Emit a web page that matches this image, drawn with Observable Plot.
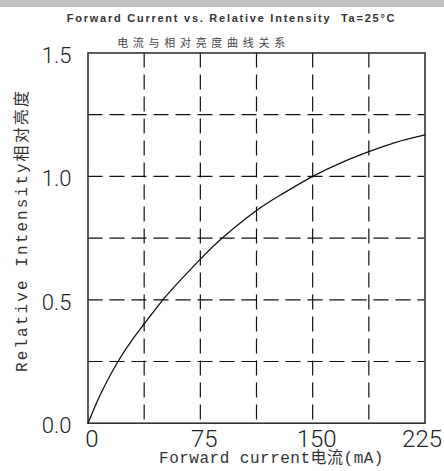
<!DOCTYPE html>
<html>
<head>
<meta charset="utf-8">
<script src="https://cdn.jsdelivr.net/npm/d3@7"></script>
<script src="https://cdn.jsdelivr.net/npm/@observablehq/plot@0.6"></script>
<style>
  html, body { margin: 0; padding: 0; background: #fff; overflow: hidden; }
  #wrap { position: relative; width: 444px; height: 471px; }
  #bar { position: absolute; left: 0; top: 0; width: 444px; height: 7px; background: #bfbfbf; }
</style>
</head>
<body>
<div id="wrap"><div id="bar"></div></div>
<script>
const current = [0, 5, 10, 20, 30, 37.5, 50, 62.5, 75, 90, 112.5, 130, 150, 170, 187.5, 205, 225];
const intensity = [0, 0.0725, 0.1375, 0.25, 0.342, 0.402, 0.50, 0.585, 0.665, 0.752, 0.862, 0.93, 1.0, 1.058, 1.10, 1.137, 1.168];
const xGrid = [37.5, 75, 112.5, 150, 187.5];
const yGrid = [0.25, 0.5, 0.75, 1.0, 1.25];
const xTickLabels = [0, 75, 150, 225];
const yTickLabels = [0, 0.5, 1.0, 1.5];
const titleText = "Forward Current vs. Relative Intensity  Ta=25°C";
const subtitleText = "电流与相对亮度曲线关系";
const xTitle = "Forward current电流(mA)";
const yTitle = "Relative Intensity相对亮度";

const data = current.map((c, i) => ({current: c, intensity: intensity[i]}));
const numFont = "Roboto, 'DejaVu Sans', sans-serif";
const monoFont = "'Liberation Mono', 'Noto Sans CJK SC', monospace";

const chart = Plot.plot({
  width: 444,
  height: 471,
  marginTop: 52.5,
  marginBottom: 48.3,
  marginLeft: 87.5,
  marginRight: 19.5,
  style: {background: "transparent"},
  x: {domain: [0, 225], axis: null},
  y: {domain: [0, 1.5], axis: null},
  marks: [
    Plot.ruleX(xGrid, {stroke: "#111", strokeWidth: 1.2, strokeDasharray: "15,7"}),
    Plot.ruleY(yGrid, {stroke: "#111", strokeWidth: 1.2, strokeDasharray: "15,7"}),
    Plot.frame({stroke: "#333", strokeWidth: 1.6}),
    Plot.line(data, {x: "current", y: "intensity", curve: "natural", stroke: "#111", strokeWidth: 1.3}),
    // x tick labels
    Plot.text(xTickLabels.slice(0, 3), {x: d => d, frameAnchor: "bottom", text: d => String(d), dx: 4, dy: 16,
      lineAnchor: "middle", textAnchor: "middle", fontFamily: numFont, fontWeight: 300, fontSize: 24, fill: "#222"}),
    Plot.text(xTickLabels.slice(3), {x: d => d, frameAnchor: "bottom", text: d => String(d), dx: 17, dy: 16,
      lineAnchor: "middle", textAnchor: "end", fontFamily: numFont, fontWeight: 300, fontSize: 24, fill: "#222"}),
    // y tick labels
    Plot.text(yTickLabels, {y: d => d, frameAnchor: "left", text: d => d.toFixed(1), dx: -16.5, dy: 3,
      lineAnchor: "middle", textAnchor: "end", fontFamily: numFont, fontWeight: 300, fontSize: 22, fill: "#222"}),
    // titles
    Plot.text([titleText], {frameAnchor: "top", text: d => d, dx: -25, dy: -34.5, lineAnchor: "middle", textAnchor: "middle",
      fontFamily: "Arial, 'Liberation Sans', sans-serif", fontWeight: "bold", fontSize: 11, fill: "#333"}),
    Plot.text([subtitleText], {frameAnchor: "top", text: d => d, dx: -53, dy: -9.5, lineAnchor: "middle", textAnchor: "middle",
      fontFamily: "'Noto Sans CJK SC', sans-serif", fontSize: 11, fill: "#444"}),
    // axis titles
    Plot.text([xTitle], {frameAnchor: "bottom", text: d => d, dx: 15, dy: 35, lineAnchor: "middle", textAnchor: "middle",
      fontFamily: monoFont, fontSize: 16, fill: "#333"}),
    Plot.text([yTitle], {frameAnchor: "left", text: d => d, dx: -66.5, dy: -7.6, rotate: -90, lineAnchor: "middle", textAnchor: "middle",
      fontFamily: monoFont, fontSize: 16, fill: "#333"})
  ]
});

// letter spacing for the title texts
const spacing = new Map([[titleText, "1.75px"], [subtitleText, "4.7px"], [xTitle, "0.5px"], [yTitle, "2.1px"]]);
chart.querySelectorAll("text").forEach(t => {
  const s = spacing.get(t.textContent);
  if (s) t.style.letterSpacing = s;
});

document.getElementById("wrap").insertBefore(chart, document.getElementById("bar"));
chart.style.position = "absolute";
chart.style.left = "0";
chart.style.top = "0";
</script>
</body>
</html>
